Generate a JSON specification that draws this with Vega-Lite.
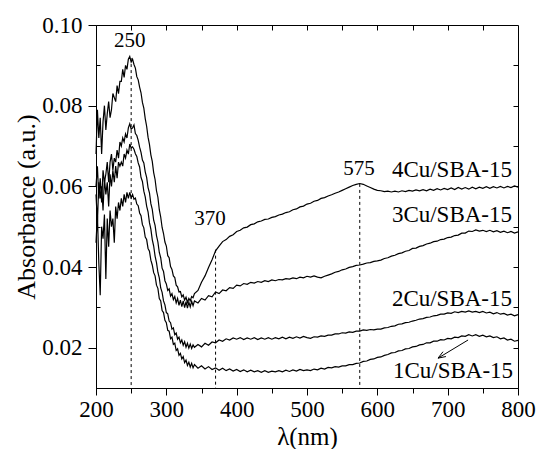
{
  "$schema": "https://vega.github.io/schema/vega-lite/v6.json",
  "width": 422,
  "height": 363,
  "autosize": {"type": "none"},
  "padding": {"left": 96, "top": 25, "right": 23, "bottom": 61},
  "config": {
    "view": {"stroke": "black", "strokeWidth": 1},
    "axis": {
      "grid": false,
      "labelFont": "Liberation Serif",
      "labelFontSize": 23,
      "labelColor": "black",
      "labelFlush": false,
      "labelOverlap": false,
      "titleFont": "Liberation Serif",
      "titleFontWeight": "normal",
      "titleColor": "black",
      "domainColor": "black",
      "domainWidth": 1,
      "tickColor": "black",
      "tickWidth": 1
    }
  },
  "datasets": {
    "spectra": [
      {"w":200,"Cu1":0.046,"Cu2":0.058,"Cu3":0.060,"Cu4":0.068},
      {"w":202,"Cu1":0.053,"Cu2":0.051,"Cu3":0.065,"Cu4":0.079},
      {"w":204,"Cu1":0.041,"Cu2":0.061,"Cu3":0.057,"Cu4":0.072},
      {"w":206,"Cu1":0.033,"Cu2":0.057,"Cu3":0.062,"Cu4":0.077},
      {"w":208,"Cu1":0.050,"Cu2":0.060,"Cu3":0.056,"Cu4":0.068},
      {"w":210,"Cu1":0.047,"Cu2":0.054,"Cu3":0.064,"Cu4":0.076},
      {"w":212,"Cu1":0.053,"Cu2":0.062,"Cu3":0.061,"Cu4":0.080},
      {"w":214,"Cu1":0.037,"Cu2":0.058,"Cu3":0.063,"Cu4":0.074},
      {"w":216,"Cu1":0.052,"Cu2":0.061,"Cu3":0.066,"Cu4":0.078},
      {"w":218,"Cu1":0.045,"Cu2":0.055,"Cu3":0.061,"Cu4":0.081},
      {"w":220,"Cu1":0.054,"Cu2":0.063,"Cu3":0.066,"Cu4":0.077},
      {"w":222,"Cu1":0.050,"Cu2":0.060,"Cu3":0.068,"Cu4":0.079},
      {"w":224,"Cu1":0.052,"Cu2":0.064,"Cu3":0.064,"Cu4":0.083},
      {"w":226,"Cu1":0.046,"Cu2":0.061,"Cu3":0.067,"Cu4":0.082},
      {"w":228,"Cu1":0.055,"Cu2":0.065,"Cu3":0.066,"Cu4":0.081},
      {"w":230,"Cu1":0.052,"Cu2":0.062,"Cu3":0.069,"Cu4":0.085},
      {"w":232,"Cu1":0.056,"Cu2":0.066,"Cu3":0.067,"Cu4":0.083},
      {"w":234,"Cu1":0.054,"Cu2":0.065,"Cu3":0.071,"Cu4":0.086},
      {"w":236,"Cu1":0.057,"Cu2":0.066,"Cu3":0.070,"Cu4":0.086},
      {"w":238,"Cu1":0.055,"Cu2":0.065,"Cu3":0.072,"Cu4":0.089},
      {"w":240,"Cu1":0.058,"Cu2":0.068,"Cu3":0.071,"Cu4":0.087},
      {"w":242,"Cu1":0.056,"Cu2":0.067,"Cu3":0.073,"Cu4":0.090},
      {"w":244,"Cu1":0.0585,"Cu2":0.069,"Cu3":0.072,"Cu4":0.089},
      {"w":246,"Cu1":0.057,"Cu2":0.068,"Cu3":0.0745,"Cu4":0.0915},
      {"w":248,"Cu1":0.0585,"Cu2":0.0705,"Cu3":0.0755,"Cu4":0.0922},
      {"w":250,"Cu1":0.0572,"Cu2":0.0695,"Cu3":0.0742,"Cu4":0.0908},
      {"w":252,"Cu1":0.0580,"Cu2":0.0698,"Cu3":0.0745,"Cu4":0.0915},
      {"w":254,"Cu1":0.0568,"Cu2":0.0692,"Cu3":0.0752,"Cu4":0.0902},
      {"w":256,"Cu1":0.0571,"Cu2":0.0681,"Cu3":0.0731,"Cu4":0.0893},
      {"w":258,"Cu1":0.0556,"Cu2":0.0674,"Cu3":0.0726,"Cu4":0.0872},
      {"w":260,"Cu1":0.0552,"Cu2":0.0658,"Cu3":0.0714,"Cu4":0.0864},
      {"w":262,"Cu1":0.0534,"Cu2":0.0648,"Cu3":0.0697,"Cu4":0.0846},
      {"w":264,"Cu1":0.0527,"Cu2":0.0622,"Cu3":0.0684,"Cu4":0.0832},
      {"w":266,"Cu1":0.0505,"Cu2":0.0612,"Cu3":0.0665,"Cu4":0.0808},
      {"w":268,"Cu1":0.0497,"Cu2":0.0588,"Cu3":0.0658,"Cu4":0.0794},
      {"w":270,"Cu1":0.0474,"Cu2":0.0574,"Cu3":0.0636,"Cu4":0.0768},
      {"w":272,"Cu1":0.0468,"Cu2":0.0551,"Cu3":0.0622,"Cu4":0.0749},
      {"w":274,"Cu1":0.0446,"Cu2":0.0537,"Cu3":0.0597,"Cu4":0.0722},
      {"w":276,"Cu1":0.0439,"Cu2":0.0510,"Cu3":0.0584,"Cu4":0.0704},
      {"w":278,"Cu1":0.0417,"Cu2":0.0494,"Cu3":0.0557,"Cu4":0.0678},
      {"w":280,"Cu1":0.0405,"Cu2":0.0468,"Cu3":0.0543,"Cu4":0.0662},
      {"w":282,"Cu1":0.0386,"Cu2":0.0452,"Cu3":0.0516,"Cu4":0.0634},
      {"w":284,"Cu1":0.0378,"Cu2":0.0427,"Cu3":0.0503,"Cu4":0.0617},
      {"w":286,"Cu1":0.0355,"Cu2":0.0411,"Cu3":0.0478,"Cu4":0.0589},
      {"w":288,"Cu1":0.0347,"Cu2":0.0387,"Cu3":0.0462,"Cu4":0.0573},
      {"w":290,"Cu1":0.0322,"Cu2":0.0373,"Cu3":0.0436,"Cu4":0.0542},
      {"w":292,"Cu1":0.0316,"Cu2":0.0348,"Cu3":0.0423,"Cu4":0.0524},
      {"w":294,"Cu1":0.0292,"Cu2":0.0337,"Cu3":0.0397,"Cu4":0.0498},
      {"w":296,"Cu1":0.0287,"Cu2":0.0316,"Cu3":0.0389,"Cu4":0.0483},
      {"w":298,"Cu1":0.0268,"Cu2":0.0306,"Cu3":0.0366,"Cu4":0.0462},
      {"w":300,"Cu1":0.0262,"Cu2":0.0287,"Cu3":0.0358,"Cu4":0.0452},
      {"w":302,"Cu1":0.0243,"Cu2":0.0284,"Cu3":0.0342,"Cu4":0.0428},
      {"w":304,"Cu1":0.0241,"Cu2":0.0266,"Cu3":0.0346,"Cu4":0.0423},
      {"w":306,"Cu1":0.0222,"Cu2":0.0262,"Cu3":0.0328,"Cu4":0.0401},
      {"w":308,"Cu1":0.0226,"Cu2":0.0246,"Cu3":0.0334,"Cu4":0.0394},
      {"w":310,"Cu1":0.0208,"Cu2":0.0249,"Cu3":0.0319,"Cu4":0.0378},
      {"w":312,"Cu1":0.0211,"Cu2":0.0232,"Cu3":0.0327,"Cu4":0.0374},
      {"w":314,"Cu1":0.0193,"Cu2":0.0236,"Cu3":0.0311,"Cu4":0.0355},
      {"w":316,"Cu1":0.0197,"Cu2":0.0221,"Cu3":0.0322,"Cu4":0.0351},
      {"w":318,"Cu1":0.0181,"Cu2":0.0226,"Cu3":0.0305,"Cu4":0.0338},
      {"w":320,"Cu1":0.0186,"Cu2":0.0212,"Cu3":0.0318,"Cu4":0.0339},
      {"w":322,"Cu1":0.0172,"Cu2":0.0219,"Cu3":0.0302,"Cu4":0.0326},
      {"w":324,"Cu1":0.0178,"Cu2":0.0206,"Cu3":0.0316,"Cu4":0.0331},
      {"w":326,"Cu1":0.0163,"Cu2":0.0215,"Cu3":0.0299,"Cu4":0.0318},
      {"w":328,"Cu1":0.0169,"Cu2":0.0201,"Cu3":0.0314,"Cu4":0.0325},
      {"w":330,"Cu1":0.0156,"Cu2":0.0211,"Cu3":0.0298,"Cu4":0.0312},
      {"w":332,"Cu1":0.0164,"Cu2":0.0199,"Cu3":0.0313,"Cu4":0.0322},
      {"w":334,"Cu1":0.0152,"Cu2":0.0209,"Cu3":0.0301,"Cu4":0.0316},
      {"w":336,"Cu1":0.0161,"Cu2":0.0198,"Cu3":0.0315,"Cu4":0.0327},
      {"w":338,"Cu1":0.0150,"Cu2":0.0207,"Cu3":0.0304,"Cu4":0.0324},
      {"w":340,"Cu1":0.0158,"Cu2":0.0201,"Cu3":0.0316,"Cu4":0.0334},
      {"w":345,"Cu1":0.0149,"Cu2":0.0208,"Cu3":0.0311,"Cu4":0.0342},
      {"w":350,"Cu1":0.0155,"Cu2":0.0202,"Cu3":0.0322,"Cu4":0.0362},
      {"w":355,"Cu1":0.0147,"Cu2":0.0211,"Cu3":0.0318,"Cu4":0.0378},
      {"w":360,"Cu1":0.0153,"Cu2":0.0206,"Cu3":0.0329,"Cu4":0.0399},
      {"w":365,"Cu1":0.0146,"Cu2":0.0214,"Cu3":0.0326,"Cu4":0.0418},
      {"w":370,"Cu1":0.0150,"Cu2":0.0212,"Cu3":0.0338,"Cu4":0.0440},
      {"w":375,"Cu1":0.0144,"Cu2":0.0219,"Cu3":0.0334,"Cu4":0.0452},
      {"w":380,"Cu1":0.0149,"Cu2":0.0216,"Cu3":0.0343,"Cu4":0.0463},
      {"w":385,"Cu1":0.0143,"Cu2":0.0222,"Cu3":0.0341,"Cu4":0.0468},
      {"w":390,"Cu1":0.0147,"Cu2":0.0219,"Cu3":0.0349,"Cu4":0.0476},
      {"w":395,"Cu1":0.0142,"Cu2":0.0224,"Cu3":0.0347,"Cu4":0.0480},
      {"w":400,"Cu1":0.0146,"Cu2":0.0221,"Cu3":0.0355,"Cu4":0.0488},
      {"w":405,"Cu1":0.0141,"Cu2":0.0225,"Cu3":0.0353,"Cu4":0.0491},
      {"w":410,"Cu1":0.0145,"Cu2":0.0220,"Cu3":0.0359,"Cu4":0.0497},
      {"w":415,"Cu1":0.0140,"Cu2":0.0224,"Cu3":0.0357,"Cu4":0.0499},
      {"w":420,"Cu1":0.0144,"Cu2":0.0221,"Cu3":0.0362,"Cu4":0.0505},
      {"w":425,"Cu1":0.0140,"Cu2":0.0225,"Cu3":0.0360,"Cu4":0.0507},
      {"w":430,"Cu1":0.0143,"Cu2":0.0220,"Cu3":0.0364,"Cu4":0.0512},
      {"w":435,"Cu1":0.0139,"Cu2":0.0224,"Cu3":0.0362,"Cu4":0.0514},
      {"w":440,"Cu1":0.0143,"Cu2":0.0221,"Cu3":0.0366,"Cu4":0.0518},
      {"w":445,"Cu1":0.0139,"Cu2":0.0225,"Cu3":0.0364,"Cu4":0.0519},
      {"w":450,"Cu1":0.0142,"Cu2":0.0221,"Cu3":0.0368,"Cu4":0.0523},
      {"w":455,"Cu1":0.0140,"Cu2":0.0225,"Cu3":0.0366,"Cu4":0.0525},
      {"w":460,"Cu1":0.0143,"Cu2":0.0222,"Cu3":0.0369,"Cu4":0.0529},
      {"w":465,"Cu1":0.0140,"Cu2":0.0226,"Cu3":0.0368,"Cu4":0.0531},
      {"w":470,"Cu1":0.0144,"Cu2":0.0222,"Cu3":0.0371,"Cu4":0.0535},
      {"w":475,"Cu1":0.0141,"Cu2":0.0226,"Cu3":0.0370,"Cu4":0.0537},
      {"w":480,"Cu1":0.0145,"Cu2":0.0223,"Cu3":0.0373,"Cu4":0.0542},
      {"w":485,"Cu1":0.0142,"Cu2":0.0227,"Cu3":0.0371,"Cu4":0.0544},
      {"w":490,"Cu1":0.0146,"Cu2":0.0224,"Cu3":0.0375,"Cu4":0.0549},
      {"w":495,"Cu1":0.0143,"Cu2":0.0228,"Cu3":0.0373,"Cu4":0.0551},
      {"w":500,"Cu1":0.0145,"Cu2":0.0225,"Cu3":0.0377,"Cu4":0.0556},
      {"w":505,"Cu1":0.0143,"Cu2":0.0223,"Cu3":0.0375,"Cu4":0.0558},
      {"w":510,"Cu1":0.0147,"Cu2":0.0227,"Cu3":0.0378,"Cu4":0.0563},
      {"w":515,"Cu1":0.0145,"Cu2":0.0226,"Cu3":0.0375,"Cu4":0.0565},
      {"w":520,"Cu1":0.0149,"Cu2":0.0229,"Cu3":0.0373,"Cu4":0.0570},
      {"w":525,"Cu1":0.0147,"Cu2":0.0228,"Cu3":0.0377,"Cu4":0.0572},
      {"w":530,"Cu1":0.0151,"Cu2":0.0231,"Cu3":0.0380,"Cu4":0.0576},
      {"w":535,"Cu1":0.0150,"Cu2":0.0231,"Cu3":0.0383,"Cu4":0.0579},
      {"w":540,"Cu1":0.0153,"Cu2":0.0234,"Cu3":0.0387,"Cu4":0.0583},
      {"w":545,"Cu1":0.0152,"Cu2":0.0234,"Cu3":0.0389,"Cu4":0.0586},
      {"w":550,"Cu1":0.0155,"Cu2":0.0237,"Cu3":0.0393,"Cu4":0.0590},
      {"w":555,"Cu1":0.0155,"Cu2":0.0236,"Cu3":0.0395,"Cu4":0.0594},
      {"w":560,"Cu1":0.0158,"Cu2":0.0239,"Cu3":0.0399,"Cu4":0.0598},
      {"w":565,"Cu1":0.0158,"Cu2":0.0238,"Cu3":0.0401,"Cu4":0.0602},
      {"w":570,"Cu1":0.0161,"Cu2":0.0241,"Cu3":0.0404,"Cu4":0.0605},
      {"w":575,"Cu1":0.0162,"Cu2":0.0241,"Cu3":0.0405,"Cu4":0.0607},
      {"w":580,"Cu1":0.0166,"Cu2":0.0244,"Cu3":0.0407,"Cu4":0.0605},
      {"w":585,"Cu1":0.0167,"Cu2":0.0243,"Cu3":0.0410,"Cu4":0.0601},
      {"w":590,"Cu1":0.0171,"Cu2":0.0245,"Cu3":0.0411,"Cu4":0.0597},
      {"w":595,"Cu1":0.0172,"Cu2":0.0244,"Cu3":0.0414,"Cu4":0.0593},
      {"w":600,"Cu1":0.0176,"Cu2":0.0246,"Cu3":0.0415,"Cu4":0.0590},
      {"w":605,"Cu1":0.0177,"Cu2":0.0246,"Cu3":0.0417,"Cu4":0.0589},
      {"w":610,"Cu1":0.0181,"Cu2":0.0249,"Cu3":0.0421,"Cu4":0.0587},
      {"w":615,"Cu1":0.0183,"Cu2":0.0250,"Cu3":0.0423,"Cu4":0.0588},
      {"w":620,"Cu1":0.0187,"Cu2":0.0253,"Cu3":0.0427,"Cu4":0.0586},
      {"w":625,"Cu1":0.0188,"Cu2":0.0254,"Cu3":0.0429,"Cu4":0.0588},
      {"w":630,"Cu1":0.0192,"Cu2":0.0258,"Cu3":0.0433,"Cu4":0.0586},
      {"w":635,"Cu1":0.0193,"Cu2":0.0259,"Cu3":0.0435,"Cu4":0.0589},
      {"w":640,"Cu1":0.0197,"Cu2":0.0262,"Cu3":0.0439,"Cu4":0.0587},
      {"w":645,"Cu1":0.0198,"Cu2":0.0263,"Cu3":0.0441,"Cu4":0.0590},
      {"w":650,"Cu1":0.0202,"Cu2":0.0266,"Cu3":0.0446,"Cu4":0.0588},
      {"w":655,"Cu1":0.0203,"Cu2":0.0268,"Cu3":0.0447,"Cu4":0.0591},
      {"w":660,"Cu1":0.0207,"Cu2":0.0271,"Cu3":0.0451,"Cu4":0.0589},
      {"w":665,"Cu1":0.0208,"Cu2":0.0272,"Cu3":0.0453,"Cu4":0.0592},
      {"w":670,"Cu1":0.0212,"Cu2":0.0275,"Cu3":0.0457,"Cu4":0.0589},
      {"w":675,"Cu1":0.0212,"Cu2":0.0276,"Cu3":0.0459,"Cu4":0.0593},
      {"w":680,"Cu1":0.0216,"Cu2":0.0279,"Cu3":0.0463,"Cu4":0.0590},
      {"w":685,"Cu1":0.0216,"Cu2":0.0280,"Cu3":0.0464,"Cu4":0.0594},
      {"w":690,"Cu1":0.0220,"Cu2":0.0283,"Cu3":0.0468,"Cu4":0.0591},
      {"w":695,"Cu1":0.0219,"Cu2":0.0283,"Cu3":0.0469,"Cu4":0.0595},
      {"w":700,"Cu1":0.0223,"Cu2":0.0286,"Cu3":0.0473,"Cu4":0.0592},
      {"w":705,"Cu1":0.0222,"Cu2":0.0285,"Cu3":0.0474,"Cu4":0.0596},
      {"w":710,"Cu1":0.0226,"Cu2":0.0289,"Cu3":0.0478,"Cu4":0.0592},
      {"w":715,"Cu1":0.0225,"Cu2":0.0287,"Cu3":0.0479,"Cu4":0.0597},
      {"w":720,"Cu1":0.0229,"Cu2":0.0290,"Cu3":0.0484,"Cu4":0.0593},
      {"w":725,"Cu1":0.0228,"Cu2":0.0288,"Cu3":0.0484,"Cu4":0.0597},
      {"w":730,"Cu1":0.0232,"Cu2":0.0291,"Cu3":0.0489,"Cu4":0.0593},
      {"w":735,"Cu1":0.0229,"Cu2":0.0288,"Cu3":0.0488,"Cu4":0.0598},
      {"w":740,"Cu1":0.0232,"Cu2":0.0290,"Cu3":0.0492,"Cu4":0.0594},
      {"w":745,"Cu1":0.0228,"Cu2":0.0287,"Cu3":0.0489,"Cu4":0.0598},
      {"w":750,"Cu1":0.0231,"Cu2":0.0290,"Cu3":0.0491,"Cu4":0.0595},
      {"w":755,"Cu1":0.0227,"Cu2":0.0286,"Cu3":0.0488,"Cu4":0.0599},
      {"w":760,"Cu1":0.0229,"Cu2":0.0288,"Cu3":0.0491,"Cu4":0.0595},
      {"w":765,"Cu1":0.0225,"Cu2":0.0284,"Cu3":0.0487,"Cu4":0.0599},
      {"w":770,"Cu1":0.0227,"Cu2":0.0287,"Cu3":0.0490,"Cu4":0.0596},
      {"w":775,"Cu1":0.0222,"Cu2":0.0283,"Cu3":0.0486,"Cu4":0.0600},
      {"w":780,"Cu1":0.0224,"Cu2":0.0285,"Cu3":0.0489,"Cu4":0.0596},
      {"w":785,"Cu1":0.0219,"Cu2":0.0281,"Cu3":0.0485,"Cu4":0.0600},
      {"w":790,"Cu1":0.0221,"Cu2":0.0283,"Cu3":0.0488,"Cu4":0.0597},
      {"w":795,"Cu1":0.0216,"Cu2":0.0279,"Cu3":0.0484,"Cu4":0.0601},
      {"w":800,"Cu1":0.0218,"Cu2":0.0282,"Cu3":0.0487,"Cu4":0.0598}
    ],
    "peaks": [
      {"w": 250, "v": 0.0918},
      {"w": 370, "v": 0.0443},
      {"w": 575, "v": 0.0606}
    ],
    "peakLabels": [
      {"w": 248, "v": 0.0945, "t": "250"},
      {"w": 362, "v": 0.0504, "t": "370"},
      {"w": 574, "v": 0.0628, "t": "575"}
    ],
    "sampleLabels": [
      {"w": 791.5, "v": 0.0624, "t": "4Cu/SBA-15"},
      {"w": 791.5, "v": 0.0512, "t": "3Cu/SBA-15"},
      {"w": 791.5, "v": 0.0303, "t": "2Cu/SBA-15"},
      {"w": 793, "v": 0.01255, "t": "1Cu/SBA-15"}
    ],
    "pointer": [
      {"part": "shaft", "o": 1, "w": 729, "v": 0.0219},
      {"part": "shaft", "o": 2, "w": 686.3, "v": 0.0174},
      {"part": "head", "o": 1, "w": 697.5, "v": 0.0178},
      {"part": "head", "o": 2, "w": 686.3, "v": 0.0174},
      {"part": "head", "o": 3, "w": 693.4, "v": 0.0190}
    ]
  },
  "resolve": {"axis": {"x": "independent", "y": "independent"}},
  "layer": [
    {
      "data": {"name": "spectra"},
      "transform": [{"fold": ["Cu1", "Cu2", "Cu3", "Cu4"], "as": ["sample", "abs"]}],
      "mark": {"type": "line", "color": "black", "strokeWidth": 1.2},
      "encoding": {
        "x": {
          "field": "w", "type": "quantitative",
          "scale": {"domain": [200, 800], "nice": false, "zero": false},
          "axis": {
            "orient": "bottom",
            "values": [200, 300, 400, 500, 600, 700, 800],
            "tickSize": 7,
            "labelPadding": 3,
            "title": "λ(nm)",
            "titleFontSize": 25,
            "titlePadding": 3
          }
        },
        "y": {
          "field": "abs", "type": "quantitative",
          "scale": {"domain": [0.01, 0.10], "nice": false, "zero": false},
          "axis": {
            "orient": "left",
            "values": [0.02, 0.04, 0.06, 0.08, 0.10],
            "format": ".2f",
            "tickSize": 8,
            "labelPadding": 6,
            "title": "Absorbance (a.u.)",
            "titleFontSize": 26,
            "titlePadding": 2
          }
        },
        "detail": {"field": "sample"}
      }
    },
    {
      "data": {"name": "peaks"},
      "mark": {"type": "rule", "color": "black", "strokeWidth": 1, "strokeDash": [3, 3]},
      "encoding": {
        "x": {
          "field": "w", "type": "quantitative",
          "axis": {
            "orient": "bottom",
            "values": [250, 350, 450, 550, 650, 750],
            "tickSize": 5, "labels": false, "domain": false, "title": null
          }
        },
        "y": {
          "field": "v", "type": "quantitative",
          "axis": {
            "orient": "left",
            "values": [0.01, 0.03, 0.05, 0.07, 0.09],
            "tickSize": -4, "labels": false, "domain": false, "title": null
          }
        },
        "y2": {"datum": 0.01}
      }
    },
    {
      "data": {"name": "peakLabels"},
      "mark": {"type": "text", "font": "Liberation Serif", "fontSize": 21, "color": "black", "align": "center", "baseline": "alphabetic"},
      "encoding": {
        "x": {
          "field": "w", "type": "quantitative",
          "axis": {
            "orient": "top",
            "values": [250, 300, 350, 400, 450, 500, 550, 600, 650, 700, 750],
            "tickSize": -5, "labels": false, "domain": false, "title": null
          }
        },
        "y": {
          "field": "v", "type": "quantitative",
          "axis": {
            "orient": "right",
            "values": [0.02, 0.03, 0.04, 0.05, 0.06, 0.07, 0.08, 0.09],
            "tickSize": -5, "labels": false, "domain": false, "title": null
          }
        },
        "text": {"field": "t"}
      }
    },
    {
      "data": {"name": "sampleLabels"},
      "mark": {"type": "text", "font": "Liberation Serif", "fontSize": 23, "color": "black", "align": "right", "baseline": "alphabetic"},
      "encoding": {
        "x": {"field": "w", "type": "quantitative", "axis": null},
        "y": {"field": "v", "type": "quantitative", "axis": null},
        "text": {"field": "t"}
      }
    },
    {
      "data": {"name": "pointer"},
      "mark": {"type": "line", "color": "black", "strokeWidth": 1},
      "encoding": {
        "x": {"field": "w", "type": "quantitative", "axis": null},
        "y": {"field": "v", "type": "quantitative", "axis": null},
        "detail": {"field": "part"},
        "order": {"field": "o"}
      }
    }
  ]
}
